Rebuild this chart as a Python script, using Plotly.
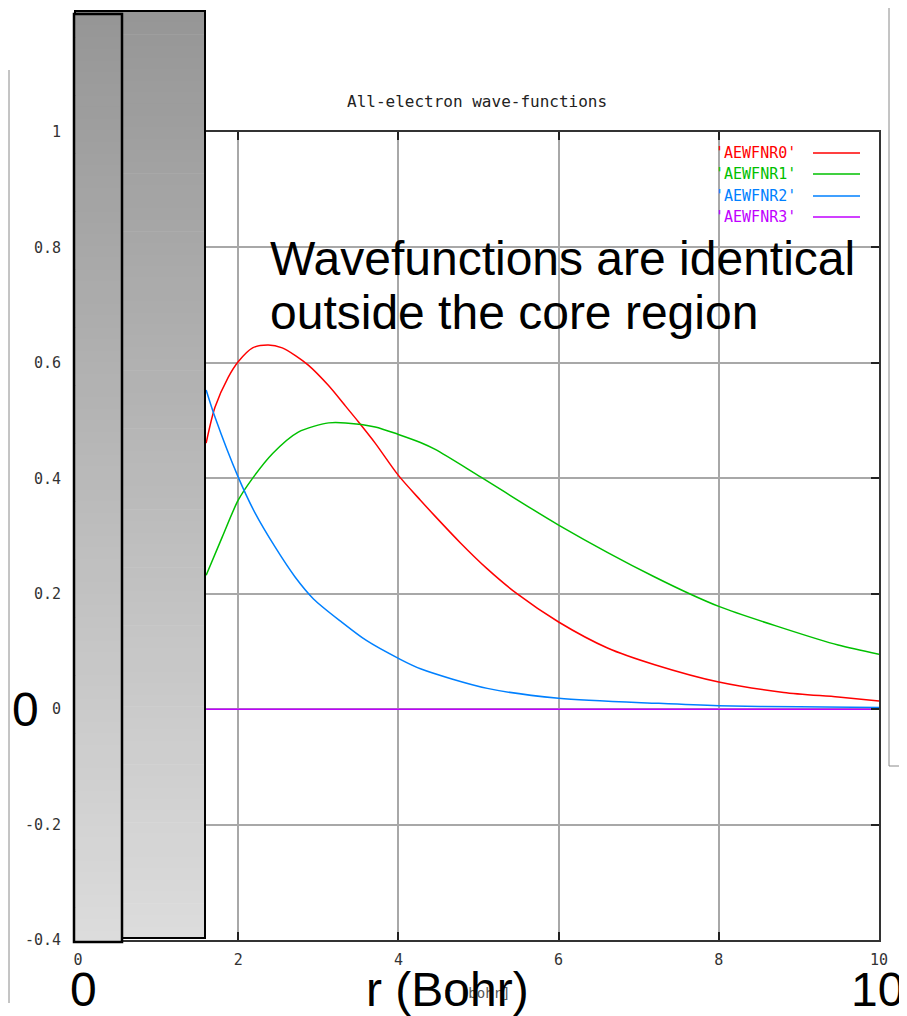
import plotly.graph_objects as go

# ---------------- data ----------------
r0_x = [1.6, 1.71, 1.875, 2.0, 2.18, 2.375, 2.55, 2.71, 2.875, 3.125, 3.34, 3.5, 3.71, 4.0,
        4.275, 4.46, 4.775, 5.11, 5.48, 6.0, 6.61, 7.2, 8.0, 8.81, 9.49, 10.0]
r0_y = [0.461, 0.523, 0.575, 0.602, 0.626, 0.631, 0.626, 0.613, 0.596, 0.561, 0.525, 0.498, 0.461, 0.405,
        0.362, 0.334, 0.288, 0.243, 0.200, 0.151, 0.106, 0.077, 0.047, 0.029, 0.021, 0.014]

r1_x = [1.6, 1.8, 2.0, 2.19, 2.43, 2.75, 3.13, 3.34, 3.71, 4.0, 4.275, 4.46, 5.03, 6.0,
        7.2, 8.0, 8.81, 9.49, 10.0]
r1_y = [0.232, 0.298, 0.362, 0.402, 0.443, 0.480, 0.496, 0.496, 0.489, 0.476, 0.462, 0.450, 0.402, 0.319,
        0.229, 0.178, 0.140, 0.111, 0.095]

r2_x = [1.6, 1.71, 2.0, 2.21, 2.46, 2.71, 2.94, 3.3, 3.6, 4.0, 4.275, 5.11, 6.0, 7.25, 8.0, 9.0, 10.0]
r2_y = [0.553, 0.506, 0.402, 0.340, 0.281, 0.229, 0.191, 0.150, 0.119, 0.088, 0.070, 0.036, 0.019,
        0.010, 0.006, 0.004, 0.003]

r3_x = [1.6, 4.0, 7.0, 10.0]
r3_y = [0.0, 0.0, 0.0, 0.0]

series_names = ["'AEWFNR0'", "'AEWFNR1'", "'AEWFNR2'", "'AEWFNR3'"]
series_colors = ["#ff0000", "#00c000", "#0080ff", "#c000ff"]

x_tickvals = [0, 2, 4, 6, 8, 10]
x_ticktext = ["0", "2", "4", "6", "8", "10"]
y_tickvals = [-0.4, -0.2, 0, 0.2, 0.4, 0.6, 0.8, 1]
y_ticktext = ["-0.4", "-0.2", "0", "0.2", "0.4", "0.6", "0.8", "1"]

title_text = "All-electron wave-functions"
xaxis_title = "r [bohr]"
note_line1 = "Wavefunctions are identical"
note_line2 = "outside the core region"

# ---------------- layout geometry ----------------
# The page body has an 8px margin, so the figure sits at (8, 8) in the window.
OFF = 8
W, H = 907 - OFF, 1016 - OFF
RL, RR, RT, RB = 78, 879, 132, 940          # plot area in window pixels
PL, PR, PT, PB = RL - OFF, RR - OFF, RT - OFF, RB - OFF


def px(xw):
    return (xw - RL) / (RR - RL)


def py(yw):
    return (RB - yw) / (RB - RT)


fig = go.Figure()
xs = [r0_x, r1_x, r2_x, r3_x]
ys = [r0_y, r1_y, r2_y, r3_y]
for xv, yv, name, col in zip(xs, ys, series_names, series_colors):
    fig.add_trace(go.Scatter(x=xv, y=yv, mode="lines", name=name,
                             line=dict(color=col, width=1.5, shape="spline", smoothing=0.8),
                             showlegend=False))

shapes = []


def grad_box(x0, x1, y0, y1, lw):
    n = 80
    top, bot = 150, 220
    for i in range(n):
        ya = y0 + (y1 - y0) * i / n
        yb = y0 + (y1 - y0) * (i + 1) / n + 0.6
        g = int(round(top + (bot - top) * (i + 0.5) / n))
        shapes.append(dict(type="rect", xref="paper", yref="paper",
                           x0=px(x0), x1=px(x1), y0=py(ya), y1=py(min(yb, y1)),
                           fillcolor=f"rgb({g},{g},{g})", line=dict(width=0), layer="above"))
    shapes.append(dict(type="rect", xref="paper", yref="paper",
                       x0=px(x0), x1=px(x1), y0=py(y0), y1=py(y1),
                       fillcolor="rgba(0,0,0,0)", line=dict(color="black", width=lw), layer="above"))


grad_box(75, 205, 11, 938, 2)
grad_box(74, 122, 14, 942, 2.5)

# stray slide frame lines
shapes.append(dict(type="line", xref="paper", yref="paper", x0=px(9), x1=px(9), y0=py(70), y1=py(1003),
                   line=dict(color="#8a8a8a", width=1)))
shapes.append(dict(type="line", xref="paper", yref="paper", x0=px(889), x1=px(889), y0=py(8), y1=py(766),
                   line=dict(color="#8a8a8a", width=1)))
shapes.append(dict(type="line", xref="paper", yref="paper", x0=px(889), x1=px(907), y0=py(766), y1=py(766),
                   line=dict(color="#8a8a8a", width=1)))

annotations = []
legend_rows = [153, 174, 196, 217]
for yr, name, col in zip(legend_rows, series_names, series_colors):
    annotations.append(dict(text=name, xref="paper", yref="paper", x=px(798), y=py(yr),
                            xanchor="right", yanchor="middle", showarrow=False,
                            font=dict(family="DejaVu Sans Mono", size=15, color=col)))
    shapes.append(dict(type="line", xref="paper", yref="paper", x0=px(813), x1=px(860),
                       y0=py(yr), y1=py(yr), line=dict(color=col, width=1.5)))

annotations.append(dict(text=title_text, xref="paper", yref="paper", x=px(477), y=py(101),
                        xanchor="center", yanchor="middle", showarrow=False,
                        font=dict(family="DejaVu Sans Mono", size=16, color="#222")))
annotations.append(dict(text=xaxis_title, xref="paper", yref="paper", x=px(476), y=py(993),
                        xanchor="center", yanchor="middle", showarrow=False,
                        font=dict(family="DejaVu Sans Mono", size=14, color="#555")))

big = dict(family="Liberation Sans, Arial", size=48, color="black")
annotations.append(dict(text=note_line1, xref="paper", yref="paper", x=px(268), y=py(276),
                        xanchor="left", yanchor="bottom", showarrow=False, font=big, yshift=-11))
annotations.append(dict(text=note_line2, xref="paper", yref="paper", x=px(268), y=py(330),
                        xanchor="left", yanchor="bottom", showarrow=False, font=big, yshift=-11))
annotations.append(dict(text="0", xref="paper", yref="paper", x=px(26), y=py(709),
                        xanchor="center", yanchor="middle", showarrow=False, font=big))
annotations.append(dict(text="0", xref="paper", yref="paper", x=px(83), y=py(989),
                        xanchor="center", yanchor="middle", showarrow=False, font=big))
annotations.append(dict(text="r (Bohr)", xref="paper", yref="paper", x=px(447), y=py(989),
                        xanchor="center", yanchor="middle", showarrow=False, font=big))
annotations.append(dict(text="10", xref="paper", yref="paper", x=px(877), y=py(989),
                        xanchor="center", yanchor="middle", showarrow=False, font=big))

tickfont = dict(family="DejaVu Sans Mono", size=15, color="#333")
fig.update_layout(
    width=W, height=H,
    margin=dict(l=PL, r=W - PR, t=PT, b=H - PB, pad=0),
    paper_bgcolor="white", plot_bgcolor="white",
    shapes=shapes, annotations=annotations, showlegend=False,
    xaxis=dict(range=[0, 10], tickvals=x_tickvals, ticktext=x_ticktext, tickfont=tickfont,
               showgrid=True, gridcolor="#a8a8a8", gridwidth=1.5, zeroline=False,
               showline=True, linecolor="#333", linewidth=2, mirror="ticks",
               ticks="inside", ticklen=8, tickcolor="#222", tickwidth=1.5, ticklabelstandoff=5),
    yaxis=dict(range=[-0.4, 1], tickvals=y_tickvals, ticktext=y_ticktext, tickfont=tickfont,
               showgrid=True, gridcolor="#a8a8a8", gridwidth=1.5, zeroline=False,
               showline=True, linecolor="#333", linewidth=2, mirror="ticks",
               ticks="inside", ticklen=8, tickcolor="#222", tickwidth=1.5, ticklabelstandoff=12),
)

fig.write_html("out.html",
               post_script="document.documentElement.style.overflow='hidden';"
                           "document.body.style.overflow='hidden';")
